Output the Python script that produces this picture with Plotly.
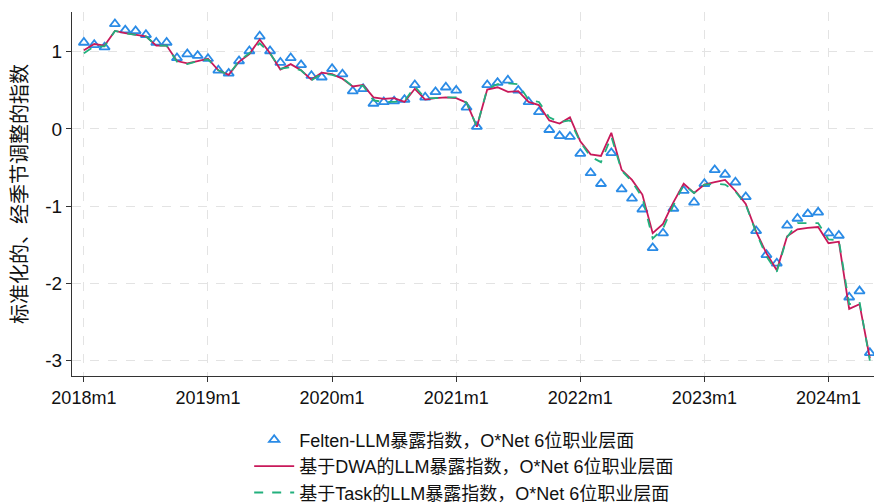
import plotly.graph_objects as go

tick_labels = ["2018m1", "2019m1", "2020m1", "2021m1", "2022m1", "2023m1", "2024m1"]
tick_months = [0, 12, 24, 36, 48, 60, 72]
months = list(range(77))  # 2018m1 .. 2024m5

felten = [
    1.12, 1.09, 1.06, 1.36, 1.28, 1.27, 1.22, 1.12, 1.12, 0.92, 0.97, 0.95,
    0.91, 0.76, 0.72, 0.88, 1.01, 1.20, 1.01, 0.86, 0.92, 0.83, 0.69, 0.67,
    0.78, 0.71, 0.49, 0.52, 0.33, 0.35, 0.36, 0.38, 0.57, 0.41, 0.48, 0.54,
    0.50, 0.28, 0.03, 0.57, 0.60, 0.63, 0.50, 0.35, 0.22, -0.01, -0.09, -0.10,
    -0.32, -0.57, -0.71, -0.31, -0.78, -0.90, -1.04, -1.54, -1.35, -1.03, -0.80, -0.95,
    -0.71, -0.53, -0.59, -0.69, -0.88, -1.32, -1.63, -1.74, -1.25, -1.16, -1.10, -1.08,
    -1.35, -1.38, -2.18, -2.10, -2.90,
]
dwa = [
    1.02, 1.10, 1.08, 1.27, 1.24, 1.22, 1.20, 1.08, 1.08, 0.88, 0.85, 0.88,
    0.91, 0.76, 0.70, 0.87, 0.97, 1.16, 0.98, 0.77, 0.84, 0.76, 0.64, 0.73,
    0.71, 0.65, 0.55, 0.57, 0.41, 0.39, 0.40, 0.35, 0.52, 0.38, 0.40, 0.41,
    0.40, 0.34, 0.03, 0.51, 0.54, 0.48, 0.49, 0.35, 0.31, 0.11, 0.07, 0.15,
    -0.16, -0.33, -0.35, -0.05, -0.53, -0.66, -0.85, -1.35, -1.23, -0.95, -0.71, -0.83,
    -0.72, -0.69, -0.66, -0.80, -0.97, -1.33, -1.61, -1.83, -1.39, -1.30, -1.28, -1.27,
    -1.48, -1.46, -2.33, -2.27, -2.97,
]
task = [
    0.98, 1.07, 1.07, 1.27, 1.24, 1.22, 1.20, 1.08, 1.08, 0.87, 0.84, 0.88,
    0.90, 0.76, 0.70, 0.88, 0.98, 1.11, 0.98, 0.78, 0.80, 0.76, 0.63, 0.72,
    0.70, 0.66, 0.55, 0.56, 0.37, 0.35, 0.35, 0.36, 0.55, 0.40, 0.40, 0.41,
    0.41, 0.34, 0.03, 0.52, 0.58, 0.59, 0.58, 0.38, 0.35, 0.15, 0.09, 0.11,
    -0.17, -0.36, -0.43, -0.10, -0.54, -0.68, -0.89, -1.42, -1.29, -0.99, -0.72, -0.83,
    -0.72, -0.71, -0.72, -0.81, -0.98, -1.34, -1.65, -1.85, -1.40, -1.22, -1.22, -1.22,
    -1.43, -1.44, -2.27, -2.24, -3.00,
]

names = [
    "Felten-LLM暴露指数，O*Net 6位职业层面",
    "基于DWA的LLM暴露指数，O*Net 6位职业层面",
    "基于Task的LLM暴露指数，O*Net 6位职业层面",
]

FONT = "Liberation Sans, Arial, Noto Sans CJK SC, sans-serif"

fig = go.Figure()
fig.add_trace(go.Scatter(
    x=months, y=felten, mode="markers", name=names[0],
    marker=dict(symbol="triangle-up-open", size=9, color="#2a8be6",
                line=dict(width=1.8, color="#2a8be6")),
))
fig.add_trace(go.Scatter(
    x=months, y=dwa, mode="lines", name=names[1],
    line=dict(color="#c8195a", width=1.8),
))
fig.add_trace(go.Scatter(
    x=months, y=task, mode="lines", name=names[2],
    line=dict(color="#22b07d", width=1.8, dash="dash"),
))

fig.update_layout(
    width=874, height=503,
    margin=dict(l=72, r=0, t=12, b=127, autoexpand=False),
    paper_bgcolor="white", plot_bgcolor="white",
    font=dict(family=FONT, size=18, color="#111"),
    showlegend=True,
    legend=dict(
        orientation="v", x=0.489, xanchor="center", y=-0.125, yanchor="top",
        font=dict(family=FONT, size=18, color="#111"),
        tracegroupgap=0, itemwidth=40, bgcolor="rgba(0,0,0,0)",
    ),
)
fig.update_xaxes(
    range=[-1.15, 76.4], tickvals=tick_months, ticktext=tick_labels,
    showline=True, linecolor="#333", linewidth=1,
    ticks="outside", ticklen=5, tickcolor="#333",
    showgrid=True, gridcolor="#e3e3e3", griddash="dash", gridwidth=1,
    zeroline=False, tickfont=dict(size=18),
)
fig.update_yaxes(
    range=[-3.2, 1.515], tickvals=[1, 0, -1, -2, -3], ticktext=["1", "0", "-1", "-2", "-3"],
    showline=True, linecolor="#333", linewidth=1,
    ticks="outside", ticklen=5, tickcolor="#333",
    showgrid=True, gridcolor="#e3e3e3", griddash="dash", gridwidth=1,
    zeroline=False, tickfont=dict(size=19),
    title=dict(text="标准化的、经季节调整的指数", font=dict(size=20), standoff=12),
)

fig.write_html("out.html")
